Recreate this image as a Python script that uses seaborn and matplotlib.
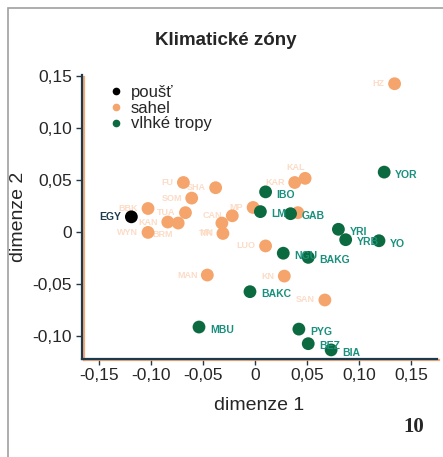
import matplotlib
matplotlib.use("Agg")
import matplotlib.pyplot as plt
import matplotlib.patheffects as pe
from matplotlib.patches import Rectangle
from matplotlib.ticker import FixedLocator, FuncFormatter
import pandas as pd
import seaborn as sns

# populace a jejich souradnice (MDS)
labels = ["EGY",
          "FU", "SHA", "SOM", "BBK", "TUA", "KAN", "BRM", "WYN", "CAN", "MP",
          "MN", "TIK", "LUO", "KAR", "KAL", "", "MAN", "KN", "SAN", "HZ",
          "IBO", "LM", "GAB", "YOR", "YRI", "YRB", "YO", "NGU", "BAKG",
          "BAKC", "MBU", "PYG", "BEZ", "BIA"]
dim1 = [-0.119,
        -0.069, -0.038, -0.061, -0.103, -0.067, -0.084, -0.074, -0.103, -0.022, -0.002,
        -0.032, -0.031, 0.010, 0.038, 0.048, 0.041, -0.046, 0.028, 0.067, 0.134,
        0.010, 0.005, 0.034, 0.124, 0.080, 0.087, 0.119, 0.027, 0.051,
        -0.005, -0.054, 0.042, 0.051, 0.073]
dim2 = [0.015,
        0.048, 0.043, 0.033, 0.023, 0.019, 0.010, 0.009, 0.000, 0.016, 0.024,
        0.009, -0.001, -0.013, 0.048, 0.052, 0.019, -0.041, -0.042, -0.065, 0.143,
        0.039, 0.020, 0.018, 0.058, 0.003, -0.007, -0.008, -0.020, -0.024,
        -0.057, -0.091, -0.093, -0.107, -0.113]
zones = ["poušť"] + ["sahel"] * 20 + ["vlhké tropy"] * 14

zone_order = ["poušť", "sahel", "vlhké tropy"]
xticks = [-0.15, -0.10, -0.05, 0, 0.05, 0.10, 0.15]
yticks = [-0.10, -0.05, 0, 0.05, 0.10, 0.15]

df = pd.DataFrame({"label": labels, "dim1": dim1, "dim2": dim2, "zone": zones})

palette = {"poušť": "#000000", "sahel": "#f5a46c", "vlhké tropy": "#0b6a3f"}
text_colors = {"poušť": "#1d3a4c", "sahel": "#fcdcc6", "vlhké tropy": "#18907c"}

# posun popisku u nahusto lezicich bodu
label_offsets = {"BRM": (-4, -8), "KAL": (0, 8), "MN": (-6, -7)}

sns.set_style("white")
plt.rcParams["font.family"] = ["Liberation Sans", "DejaVu Sans"]

fig = plt.figure(figsize=(4.43, 4.57), dpi=100)
ax = fig.add_axes([0.185, 0.215, 0.802, 0.62])

sns.scatterplot(
    data=df, x="dim1", y="dim2", hue="zone", hue_order=zone_order,
    palette=palette, s=85, edgecolor="none", ax=ax, legend=False, zorder=3
)

for _, r in df.iterrows():
    if r["zone"] == "vlhké tropy":
        ax.annotate(r["label"], (r["dim1"], r["dim2"]), xytext=(8, -2),
                    textcoords="offset points", fontsize=7.5, fontweight="bold",
                    color=text_colors[r["zone"]], va="center", ha="left", zorder=4)
    elif r["zone"] == "poušť":
        ax.annotate(r["label"], (r["dim1"], r["dim2"]), xytext=(-7, 0),
                    textcoords="offset points", fontsize=7.5, fontweight="bold",
                    color=text_colors[r["zone"]], va="center", ha="right", zorder=4)
    else:
        off = label_offsets.get(r["label"], (-7, 0))
        ax.annotate(r["label"], (r["dim1"], r["dim2"]), xytext=off,
                    textcoords="offset points", fontsize=6.5, fontweight="bold",
                    color=text_colors[r["zone"]], va="center", ha="right", zorder=2)

# legenda
handles = [plt.Line2D([], [], marker="o", ls="", color=palette[z], markersize=4.5)
           for z in zone_order]
ax.legend(handles, zone_order, loc="upper left", bbox_to_anchor=(0.03, 1.02),
          frameon=False, fontsize=12, labelspacing=0.05, handletextpad=0.4,
          handlelength=1.0)

ax.set_xlim(-0.1665, 0.175)
ax.set_ylim(-0.1215, 0.151)
ax.xaxis.set_major_locator(FixedLocator(xticks))
ax.yaxis.set_major_locator(FixedLocator(yticks))

fmt = FuncFormatter(lambda v, p: "0" if abs(v) < 1e-9 else f"{v:.2f}".replace(".", ","))
ax.xaxis.set_major_formatter(fmt)
ax.yaxis.set_major_formatter(fmt)
ax.tick_params(axis="both", labelsize=12.5, length=4, width=1, color="#1d3a4c",
               direction="out", pad=3, bottom=True, left=True)

for side in ["top", "right"]:
    ax.spines[side].set_visible(False)
for side in ["left", "bottom"]:
    ax.spines[side].set_color("#1d3a4c")
    ax.spines[side].set_linewidth(1.6)
    ax.spines[side].set_path_effects([
        pe.SimpleLineShadow(offset=(1.2, -1.2), shadow_color="#f4a06a", alpha=0.9),
        pe.Normal()])

ax.set_xlabel("dimenze 1", fontsize=14, labelpad=10)
ax.set_ylabel("dimenze 2", fontsize=14, labelpad=4)
fig.text(0.51, 0.912, "Klimatické zóny", ha="center", va="center",
         fontsize=13.5, fontweight="bold")
fig.text(0.935, 0.066, "10", ha="center", va="center", fontsize=15,
         fontweight="bold", family=["Liberation Serif", "DejaVu Serif"])

fig.patches.append(Rectangle((0.018, -0.05), 1.2, 1.032, transform=fig.transFigure,
                             fill=False, edgecolor="#a0a0a0", lw=1.2))

fig.savefig("out.png", dpi=100)
